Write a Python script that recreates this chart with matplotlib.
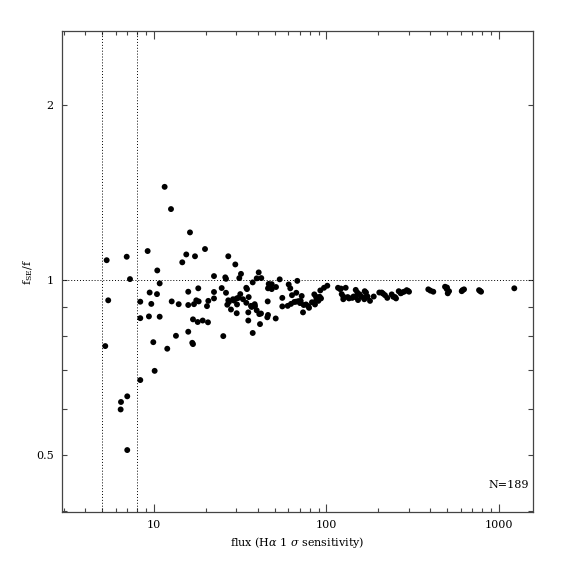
import numpy as np
import matplotlib
matplotlib.use('Agg')
from matplotlib import pyplot as plt
from matplotlib.ticker import FixedLocator, NullFormatter

plt.rcParams['font.family'] = 'DejaVu Serif'
plt.rcParams['mathtext.fontset'] = 'dejavuserif'

# Flux (H-alpha 1 sigma sensitivity) and f_SE/f for each galaxy
flux = [
    5.22, 5.32, 5.43, 6.41, 6.44, 6.95, 7.00, 7.00, 7.26, 8.33,
    8.33, 8.33, 9.19, 9.35, 9.44, 9.65, 9.91, 10.09, 10.41, 10.45,
    10.79, 10.79, 11.53, 11.94, 12.55, 12.67, 13.41, 13.91, 14.59, 15.39,
    15.80, 15.80, 15.80, 16.17, 16.83, 16.67, 16.83, 17.06, 17.29, 17.59,
    17.92, 18.06, 18.16, 19.16, 19.76, 20.29, 20.56, 20.65, 22.28, 22.28,
    22.28, 24.69, 25.22, 25.90, 26.15, 26.15, 26.60, 26.96, 26.96, 27.95,
    28.71, 29.61, 30.17, 30.17, 30.29, 30.82, 31.23, 31.64, 31.94, 34.28,
    34.60, 34.28, 35.21, 35.21, 35.40, 36.50, 36.85, 37.35, 37.35, 38.36,
    39.40, 39.40, 40.46, 40.78, 41.17, 41.88, 41.72, 45.38, 45.81, 45.62,
    46.24, 48.13, 45.81, 48.13, 50.77, 50.97, 53.55, 55.44, 55.44, 59.57,
    60.37, 61.67, 62.25, 63.10, 65.07, 66.83, 67.72, 68.64, 70.87, 71.82,
    73.77, 76.08, 78.46, 79.20, 73.09, 84.98, 85.77, 86.93, 87.29, 89.65,
    91.34, 92.08, 92.93, 96.72, 101.1, 116.6, 119.8, 122.5, 125.1, 125.1,
    129.2, 132.7, 135.0, 141.1, 147.7, 147.7, 150.9, 152.3, 155.8, 160.0,
    165.6, 166.5, 169.4, 169.4, 178.7, 187.8, 202.3, 208.9, 218.3, 225.1,
    238.8, 243.9, 252.9, 262.2, 269.2, 281.4, 291.7, 300.8, 389.1, 415.9,
    486.4, 497.7, 513.2, 504.4, 607.8, 626.7, 765.9, 786.7, 1226.0, 212.6,
    249.6, 274.0, 296.9, 499.4, 614.3, 776.2, 400.8, 172.9, 143.4, 121.4,
    89.3, 66.57, 32.81, 29.09, 27.21, 38.51, 47.04, 70.22, 82.39,
]
ratio = [
    0.770, 1.082, 0.923, 0.599, 0.617, 1.097, 0.631, 0.510, 1.004, 0.918,
    0.860, 0.673, 1.122, 0.866, 0.952, 0.910, 0.782, 0.698, 0.946, 1.039,
    0.987, 0.865, 1.447, 0.762, 1.325, 0.919, 0.802, 0.909, 1.073, 1.107,
    0.955, 0.906, 0.815, 1.208, 0.856, 0.780, 0.776, 0.909, 1.099, 0.923,
    0.847, 0.968, 0.919, 0.852, 1.131, 0.902, 0.846, 0.921, 1.016, 0.954,
    0.930, 0.969, 0.801, 1.011, 1.005, 0.951, 0.907, 1.099, 0.923, 0.890,
    0.927, 1.064, 0.930, 0.877, 0.908, 0.932, 1.008, 0.946, 1.025, 0.970,
    0.965, 0.914, 0.880, 0.852, 0.935, 0.903, 0.899, 0.991, 0.811, 0.909,
    1.007, 0.887, 1.031, 0.874, 0.840, 1.008, 0.876, 0.863, 0.871, 0.919,
    0.985, 0.984, 0.968, 0.965, 0.859, 0.973, 1.003, 0.901, 0.932, 0.903,
    0.983, 0.968, 0.910, 0.942, 0.917, 0.951, 0.997, 0.920, 0.921, 0.939,
    0.906, 0.908, 0.902, 0.896, 0.880, 0.945, 0.908, 0.936, 0.924, 0.921,
    0.936, 0.960, 0.930, 0.970, 0.978, 0.970, 0.965, 0.946, 0.937, 0.927,
    0.970, 0.935, 0.930, 0.932, 0.935, 0.962, 0.952, 0.924, 0.945, 0.936,
    0.927, 0.957, 0.952, 0.934, 0.921, 0.937, 0.952, 0.952, 0.942, 0.932,
    0.945, 0.936, 0.930, 0.957, 0.949, 0.955, 0.961, 0.955, 0.964, 0.955,
    0.974, 0.965, 0.957, 0.949, 0.957, 0.964, 0.961, 0.955, 0.968, 0.948,
    0.935, 0.952, 0.958, 0.971, 0.961, 0.958, 0.959, 0.937, 0.937, 0.967,
    0.933, 0.918, 0.927, 0.922, 0.917, 0.902, 0.976, 0.913, 0.916,
]

# Sensitivity cuts and reference level
flux_cuts = [5, 8]
ratio_ref = 1.0

x_major = [10, 100, 1000]
x_minor = [3, 4, 5, 6, 7, 8, 9, 20, 30, 40, 50, 60, 70, 80, 90,
           200, 300, 400, 500, 600, 700, 800, 900]
y_major = [0.5, 1, 2]
y_minor = [0.4, 0.6, 0.7, 0.8, 0.9]

fig = plt.figure(figsize=(5.74, 5.74), dpi=100)
ax = fig.add_axes([0.108, 0.108, 0.8206, 0.838])

ax.set_xscale('log')
ax.set_yscale('log')
ax.set_xlim(2.93, 1574)
ax.set_ylim(0.399, 2.683)

for xc in flux_cuts:
    ax.axvline(xc, color='black', linestyle=(0, (1, 2)), linewidth=0.7)
ax.axhline(ratio_ref, color='black', linestyle=(0, (1, 2)), linewidth=0.7)

ax.scatter(flux, ratio, s=18, color='black', edgecolors='none', zorder=3)

ax.xaxis.set_major_locator(FixedLocator(x_major))
ax.xaxis.set_minor_locator(FixedLocator(x_minor))
ax.yaxis.set_major_locator(FixedLocator(y_major))
ax.yaxis.set_minor_locator(FixedLocator(y_minor))
ax.set_xticklabels(['10', '100', '1000'])
ax.set_yticklabels(['0.5', '1', '2'])
ax.xaxis.set_minor_formatter(NullFormatter())
ax.yaxis.set_minor_formatter(NullFormatter())

ax.tick_params(which='both', direction='in', top=True, right=True,
               color='#444444', labelsize=8, pad=6)
ax.tick_params(axis='x', which='major', length=6, width=0.8)
ax.tick_params(axis='x', which='minor', length=3, width=0.8)
ax.tick_params(axis='y', which='both', length=3.5, width=0.8)
for s in ax.spines.values():
    s.set_linewidth(0.9)
    s.set_color('#444444')

ax.set_xlabel(r'flux (H$\alpha$ 1 $\sigma$ sensitivity)', fontsize=8, labelpad=3)
ax.set_ylabel(r'f$_{\rm SE}$/f', fontsize=8, labelpad=1)

ax.text(0.992, 0.045, 'N=189', transform=ax.transAxes, ha='right',
        va='bottom', fontsize=8)

plt.savefig('out.png', dpi=100)
